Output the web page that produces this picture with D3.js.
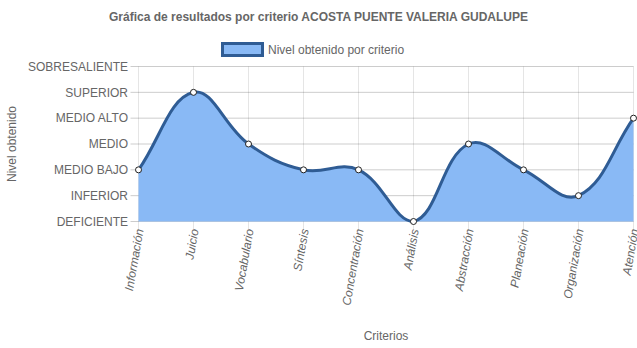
<!DOCTYPE html>
<html>
<head>
<meta charset="utf-8">
<script src="https://cdn.jsdelivr.net/npm/d3@7"></script>
<style>
  html, body { margin: 0; padding: 0; background: #fff; }
  svg { display: block; font-family: "Liberation Sans", Arial, Helvetica, sans-serif; }
</style>
</head>
<body>
<svg id="chart" width="637" height="348"></svg>
<script>
// Criteria evaluated and the level reached in each one
const categories = ["Información", "Juicio", "Vocabulario", "Síntesis", "Concentración",
                    "Análisis", "Abstracción", "Planeación", "Organización", "Atención"];
// Level index: 0 = DEFICIENTE ... 6 = SOBRESALIENTE
const levels = ["DEFICIENTE", "INFERIOR", "MEDIO BAJO", "MEDIO", "MEDIO ALTO", "SUPERIOR", "SOBRESALIENTE"];
const values = [2, 5, 3, 2, 2, 0, 3, 2, 1, 4];

const titleText = "Gráfica de resultados por criterio ACOSTA PUENTE VALERIA GUDALUPE";
const legendText = "Nivel obtenido por criterio";
const xTitle = "Criterios";
const yTitle = "Nivel obtenido";

const W = 637, H = 348;
const area = { left: 138.5, right: 633.5, top: 66.5, bottom: 221.5 };
const textColor = "#666";
const lineColor = "#2f5c94";
const fillColor = "#89b9f5";

const svg = d3.select("#chart");

const x = d3.scalePoint().domain(categories).range([area.left, area.right]);
const y = d3.scaleLinear().domain([0, levels.length - 1]).range([area.bottom, area.top]);

// Grid lines
const grid = svg.append("g");
grid.selectAll("line.v").data(categories).join("line")
  .attr("x1", d => x(d)).attr("x2", d => x(d))
  .attr("y1", area.top).attr("y2", area.bottom + 8)
  .attr("stroke", "rgba(0,0,0,0.1)").attr("stroke-width", 1);
grid.selectAll("line.h").data(d3.range(levels.length)).join("line")
  .attr("x1", area.left - 8).attr("x2", area.right)
  .attr("y1", d => y(d)).attr("y2", d => y(d))
  .attr("stroke", "rgba(0,0,0,0.2)").attr("stroke-width", 1);

// Y tick labels
svg.append("g").selectAll("text").data(levels).join("text")
  .attr("x", area.left - 10.5).attr("y", (d, i) => y(i))
  .attr("dy", "0.35em").attr("text-anchor", "end")
  .attr("font-size", 12).attr("fill", textColor)
  .text(d => d);

// X tick labels (rotated, italic)
svg.append("g").selectAll("text").data(categories).join("text")
  .attr("transform", d => `translate(${x(d) + 4},${area.bottom + 8}) rotate(-80)`)
  .attr("text-anchor", "end").attr("dy", "0.1em")
  .attr("font-size", 12).attr("font-style", "italic").attr("fill", textColor)
  .text(d => d);

// Smooth curve through the points (cubic Bézier, tension 0.4, control points kept inside the plot)
const pts = values.map((v, i) => ({ x: x(categories[i]), y: y(v) }));
const tension = 0.4;
const clampX = v => Math.max(area.left, Math.min(area.right, v));
const clampY = v => Math.max(area.top, Math.min(area.bottom, v));
const ctrl = pts.map((cur, i) => {
  const prev = pts[i - 1] || cur, next = pts[i + 1] || cur;
  const d01 = Math.hypot(cur.x - prev.x, cur.y - prev.y);
  const d12 = Math.hypot(next.x - cur.x, next.y - cur.y);
  let s01 = d01 / (d01 + d12), s12 = d12 / (d01 + d12);
  if (isNaN(s01)) s01 = 0;
  if (isNaN(s12)) s12 = 0;
  const fa = tension * s01, fb = tension * s12;
  return {
    px: clampX(cur.x - fa * (next.x - prev.x)), py: clampY(cur.y - fa * (next.y - prev.y)),
    nx: clampX(cur.x + fb * (next.x - prev.x)), ny: clampY(cur.y + fb * (next.y - prev.y))
  };
});
function curvePath(p) {
  p.moveTo(pts[0].x, pts[0].y);
  for (let i = 1; i < pts.length; i++) {
    p.bezierCurveTo(ctrl[i - 1].nx, ctrl[i - 1].ny, ctrl[i].px, ctrl[i].py, pts[i].x, pts[i].y);
  }
  return p;
}
const fillPath = curvePath(d3.path());
fillPath.lineTo(pts[pts.length - 1].x, y(0));
fillPath.lineTo(pts[0].x, y(0));
fillPath.closePath();
svg.append("path").attr("d", fillPath.toString()).attr("fill", fillColor);

svg.append("path").attr("d", curvePath(d3.path()).toString())
  .attr("fill", "none").attr("stroke", lineColor).attr("stroke-width", 3);

// Points
svg.append("g").selectAll("circle").data(pts).join("circle")
  .attr("cx", d => d.x).attr("cy", d => d.y).attr("r", 3)
  .attr("fill", "#fff").attr("stroke", "#222").attr("stroke-width", 1);

// Title
svg.append("text").attr("x", W / 2).attr("y", 17).attr("dy", "0.35em")
  .attr("text-anchor", "middle").attr("font-size", 12).attr("font-weight", "bold")
  .attr("fill", textColor).text(titleText);

// Legend
const legend = svg.append("g");
legend.append("rect").attr("x", 222.5).attr("y", 43.5).attr("width", 40).attr("height", 12)
  .attr("fill", fillColor).attr("stroke", lineColor).attr("stroke-width", 3);
legend.append("text").attr("x", 268).attr("y", 49.5).attr("dy", "0.35em")
  .attr("font-size", 12).attr("fill", textColor).text(legendText);

// Axis titles
svg.append("text").attr("x", (area.left + area.right) / 2).attr("y", 336).attr("dy", "0.35em")
  .attr("text-anchor", "middle").attr("font-size", 12).attr("fill", textColor).text(xTitle);
svg.append("text").attr("transform", `translate(12,${(area.top + area.bottom) / 2}) rotate(-90)`)
  .attr("dy", "0.35em").attr("text-anchor", "middle")
  .attr("font-size", 12).attr("fill", textColor).text(yTitle);
</script>
</body>
</html>
